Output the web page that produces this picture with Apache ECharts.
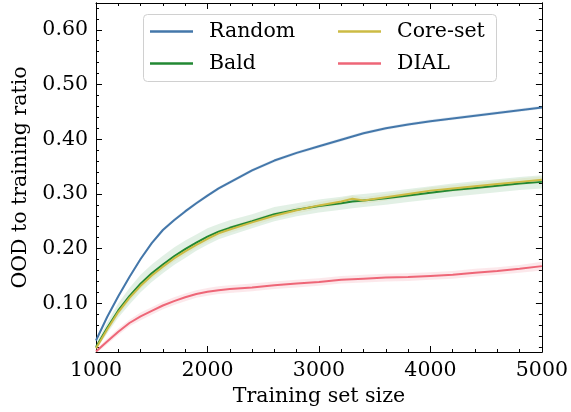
<!DOCTYPE html>
<html>
<head>
<meta charset="utf-8">
<script src="https://cdn.jsdelivr.net/npm/echarts@6/dist/echarts.min.js"></script>
<style>html,body{margin:0;padding:0;background:#fff}#c{width:571px;height:412px}</style>
</head>
<body>
<div id="c"></div>
<script>
var xs = [1000,1100,1200,1300,1400,1500,1600,1700,1800,1900,2000,2100,2200,2400,2600,2800,3000,3200,3300,3400,3600,3800,4000,4200,4400,4600,4800,5000];
var random = [0.032,0.075,0.113,0.148,0.181,0.210,0.234,0.252,0.268,0.283,0.297,0.310,0.321,0.343,0.361,0.375,0.387,0.399,0.405,0.411,0.420,0.427,0.433,0.438,0.443,0.448,0.453,0.458];
var randomStd = [0.003,0.003,0.003,0.003,0.003,0.003,0.003,0.003,0.003,0.003,0.003,0.003,0.003,0.003,0.003,0.003,0.003,0.003,0.003,0.003,0.003,0.003,0.003,0.003,0.003,0.003,0.003,0.003];
var bald = [0.020,0.055,0.087,0.113,0.136,0.155,0.171,0.186,0.199,0.211,0.222,0.231,0.238,0.250,0.263,0.271,0.278,0.283,0.286,0.288,0.292,0.297,0.302,0.307,0.311,0.315,0.319,0.322];
var baldStd = [0.005,0.010,0.013,0.015,0.016,0.016,0.016,0.016,0.016,0.015,0.015,0.014,0.014,0.013,0.013,0.012,0.012,0.012,0.012,0.012,0.012,0.012,0.012,0.012,0.012,0.012,0.012,0.012];
var coreset = [0.018,0.052,0.084,0.110,0.132,0.151,0.167,0.182,0.195,0.207,0.218,0.228,0.235,0.248,0.260,0.270,0.279,0.286,0.291,0.288,0.294,0.300,0.306,0.310,0.314,0.318,0.322,0.326];
var coresetStd = [0.004,0.005,0.006,0.006,0.006,0.006,0.006,0.006,0.006,0.006,0.006,0.006,0.006,0.006,0.006,0.006,0.006,0.006,0.006,0.006,0.006,0.006,0.006,0.006,0.006,0.006,0.006,0.006];
var dial = [0.012,0.030,0.048,0.064,0.076,0.086,0.096,0.104,0.111,0.117,0.121,0.124,0.126,0.129,0.133,0.136,0.139,0.143,0.144,0.145,0.147,0.148,0.150,0.152,0.156,0.159,0.163,0.168];
var dialStd = [0.004,0.005,0.006,0.006,0.007,0.007,0.007,0.007,0.007,0.007,0.007,0.007,0.007,0.007,0.007,0.007,0.007,0.007,0.007,0.007,0.007,0.007,0.007,0.007,0.007,0.007,0.007,0.008];
var yMajor = [0.1,0.2,0.3,0.4,0.5,0.6];
var yMinor = [0.02,0.04,0.06,0.08,0.12,0.14,0.16,0.18,0.22,0.24,0.26,0.28,0.32,0.34,0.36,0.38,0.42,0.44,0.46,0.48,0.52,0.54,0.56,0.58,0.62,0.64];

var names = ['Random','Bald','Core-set','DIAL'];
var colors = ['#4477AA','#228833','#CCBB44','#EE6677'];
var means = [random, bald, coreset, dial];
var stds = [randomStd, baldStd, coresetStd, dialStd];
var bandAlpha = [0.15, 0.13, 0.13, 0.15];

var FONT = 'DejaVu Serif';
var FS = 20.5;
var YMIN = 0.011, YMAX = 0.649;

function hexA(h, a){
  var r=parseInt(h.substr(1,2),16), g=parseInt(h.substr(3,2),16), b=parseInt(h.substr(5,2),16);
  return 'rgba('+r+','+g+','+b+','+a+')';
}

var series = [];
for (var i=0;i<4;i++){
  (function(i){
    series.push({type:'custom', name:names[i]+'_band', silent:true, z:1, clip:true,
      data: xs.map(function(x,k){return [x, means[i][k]];}),
      renderItem:function(params, api){
        if (params.dataIndex !== 0) return null;
        var pts = [];
        for (var k=0;k<xs.length;k++) pts.push(api.coord([xs[k], means[i][k]+stds[i][k]]));
        for (var k2=xs.length-1;k2>=0;k2--) pts.push(api.coord([xs[k2], means[i][k2]-stds[i][k2]]));
        return {type:'polygon', shape:{points:pts}, style:{fill:hexA(colors[i], bandAlpha[i])}};
      }
    });
  })(i);
}
for (var j=0;j<4;j++){
  series.push({type:'line', name:names[j], data:xs.map(function(x,k){return [x, means[j][k]];}),
    symbol:'none', lineStyle:{color:colors[j], width:2}, itemStyle:{color:colors[j]}, z:3});
}

function yAx(pos, vals, len, labels){
  return {type:'value', position:pos, min:YMIN, max:YMAX,
    axisLine:{show:true, onZero:false, lineStyle:{color:'#000', width:1}},
    axisTick:{show:true, inside:true, length:len, customValues:vals, lineStyle:{color:'#000', width:1}},
    axisLabel:{show:labels, customValues:vals, margin:8, color:'#000', fontFamily:FONT, fontSize:FS,
      formatter:function(v){return v.toFixed(2);}},
    splitLine:{show:false},
    name: labels ? 'OOD to training ratio' : '', nameLocation:'middle', nameGap:62,
    nameTextStyle:{color:'#000', fontFamily:FONT, fontSize:FS}
  };
}
function xAx(pos, labels){
  return {type:'value', position:pos, min:1000, max:5000, interval:1000,
    axisLine:{show:true, onZero:false, lineStyle:{color:'#000', width:1}},
    axisTick:{show:true, inside:true, length:6, lineStyle:{color:'#000', width:1}},
    minorTick:{show:true, splitNumber:5, length:3, lineStyle:{color:'#000', width:1}},
    axisLabel:{show:labels, margin:8, color:'#000', fontFamily:FONT, fontSize:FS,
      formatter:function(v){return String(v);}},
    splitLine:{show:false},
    name: labels ? 'Training set size' : '', nameLocation:'middle', nameGap:33,
    nameTextStyle:{color:'#000', fontFamily:FONT, fontSize:FS}
  };
}

var chart = echarts.init(document.getElementById('c'), null, {renderer:'canvas'});
chart.setOption({
  animation:false,
  backgroundColor:'#fff',
  grid:{left:96, right:28, top:3, bottom:60, containLabel:false},
  xAxis:[xAx('bottom', true), xAx('top', false)],
  yAxis:[yAx('left', yMajor, 6, true), yAx('left', yMinor, 3, false), yAx('right', yMajor, 6, false), yAx('right', yMinor, 3, false)],
  graphic:[{type:'rect', left:143, top:14, shape:{width:353, height:67, r:4}, z:50,
    style:{fill:'rgba(255,255,255,0.85)', stroke:'#d0d0d0', lineWidth:1}}],
  legend:[
    {data:['Random','Bald'], orient:'vertical', left:150, top:21, padding:0, itemWidth:43, itemHeight:2.5, itemGap:11, icon:'rect', z:60,
      textStyle:{color:'#000', fontFamily:FONT, fontSize:FS, lineHeight:20, padding:[0,0,0,11]}},
    {data:['Core-set','DIAL'], orient:'vertical', left:338, top:21, padding:0, itemWidth:43, itemHeight:2.5, itemGap:11, icon:'rect', z:60,
      textStyle:{color:'#000', fontFamily:FONT, fontSize:FS, lineHeight:20, padding:[0,0,0,11]}}
  ],
  series:series
});
</script>
</body>
</html>
